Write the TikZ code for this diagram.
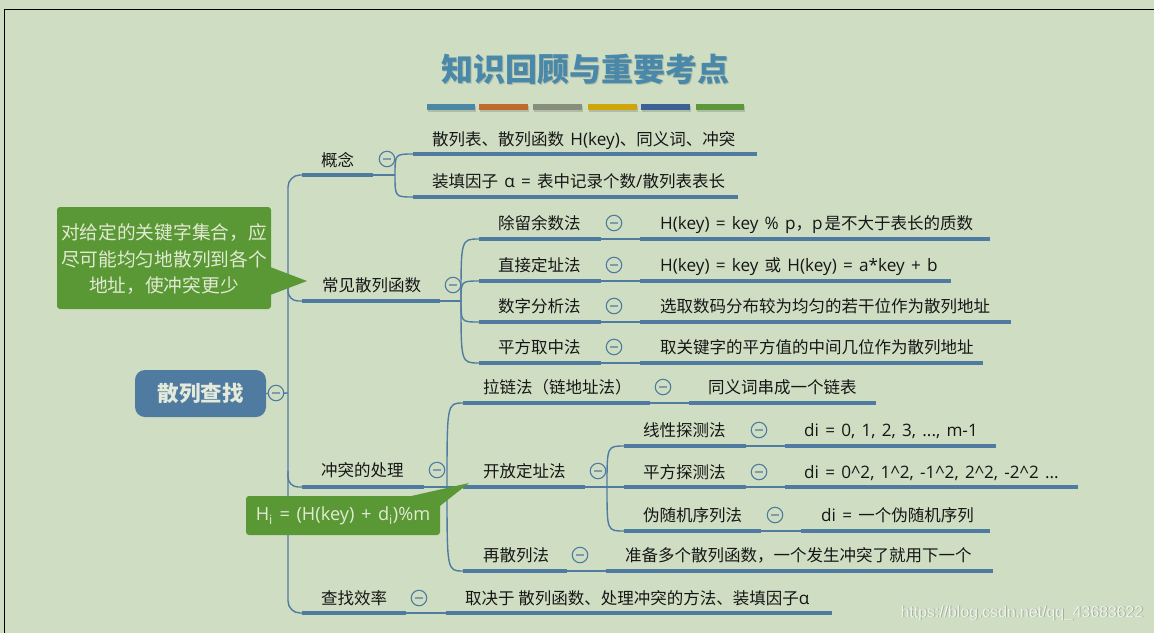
\documentclass[tikz,border=0pt]{standalone}
\usepackage{fontspec}
\setmainfont{Noto Sans CJK SC}
\newfontfamily\latfont[Scale=1.04,WordSpace=1.4]{Open Sans}
\newfontfamily\wmfont{Liberation Sans}
\newcommand\ltn[1]{{\latfont #1}}
\usetikzlibrary{calc}
\definecolor{bg}{RGB}{207,222,195}
\definecolor{lineblue}{RGB}{79,123,160}
\definecolor{titlecol}{RGB}{74,136,170}
\definecolor{notegreen}{RGB}{90,152,53}
\definecolor{notetext}{RGB}{226,234,212}
\definecolor{roottext}{RGB}{228,234,218}
\definecolor{ink}{RGB}{22,22,22}
\definecolor{cA}{RGB}{74,136,166}
\definecolor{cB}{RGB}{192,106,44}
\definecolor{cC}{RGB}{136,142,126}
\definecolor{cD}{RGB}{206,166,10}
\definecolor{cE}{RGB}{58,98,148}
\definecolor{cF}{RGB}{90,152,58}
\begin{document}
\begin{tikzpicture}[x=1pt,y=-1pt,
  bar/.style={draw=lineblue,line width=4.5pt},
  link/.style={draw=lineblue,line width=1.4pt},
  lbl/.style={anchor=base west,yshift=-6.3pt,inner sep=0pt,text=ink,font=\fontsize{16.5}{20}\selectfont},
  fold/.style={circle,draw=lineblue,line width=1.1pt,fill=bg,minimum size=15.5pt,inner sep=0pt,
     path picture={\draw[lineblue!65!bg,line width=1.3pt] ([xshift=-3.6pt]path picture bounding box.center) -- ([xshift=3.6pt]path picture bounding box.center);}},
  rootbox/.style={rounded corners=10pt,fill=lineblue,text=roottext,minimum width=131pt,minimum height=47pt,inner sep=0pt,font=\fontsize{21.5}{24}\selectfont\bfseries},
  note/.style={rounded corners=3pt,fill=notegreen,inner sep=0pt},
  notetxt/.style={text=notetext,inner sep=0pt,align=center,font=\fontsize{18.7}{26.5}\selectfont},
  titletxt/.style={inner sep=0pt,font=\fontsize{32}{36}\selectfont\bfseries},
]
\fill[bg] (0,0) rectangle (1154,633);
\useasboundingbox (0,0) rectangle (1154,633);
\draw[black,line width=1.3pt] (4.5,633) -- (4.5,9.5) -- (1154,9.5);

% title
\node[titletxt,text=black,opacity=.15] at (586.8,70.8) {知识回顾与重要考点};
\node[titletxt,text=titlecol] (title) at (585.5,69) {知识回顾与重要考点};
\foreach \xa/\xb/\c in {427/475/cA,479/528/cB,533/582/cC,588/637/cD,641/690/cE,696/744/cF}{
  \fill[black,opacity=.15] (\xa+1,105.5) rectangle (\xb+1,111.5);
  \fill[\c] (\xa,104) rectangle (\xb,110);
}

% coordinates
\coordinate (trunk) at (288,393);
\coordinate (aS) at (302,175); \coordinate (aE) at (373,175); \coordinate (ak) at (395,175);
\coordinate (a1S) at (413,154); \coordinate (a1E) at (757,154);
\coordinate (a2S) at (413,197); \coordinate (a2E) at (738,197);
\coordinate (bS) at (302,301); \coordinate (bE) at (440,301); \coordinate (bk) at (461,301);
\coordinate (b1S) at (479,239); \coordinate (b1E) at (601,239); \coordinate (b1vS) at (640,239); \coordinate (b1vE) at (990,239);
\coordinate (b2S) at (479,281); \coordinate (b2E) at (601,281); \coordinate (b2vS) at (640,281); \coordinate (b2vE) at (951,281);
\coordinate (b3S) at (479,322); \coordinate (b3E) at (601,322); \coordinate (b3vS) at (640,322); \coordinate (b3vE) at (1011,322);
\coordinate (b4S) at (479,363); \coordinate (b4E) at (601,363); \coordinate (b4vS) at (640,363); \coordinate (b4vE) at (983,363);
\coordinate (cS) at (302,487); \coordinate (cE) at (424,487); \coordinate (ck) at (447,487);
\coordinate (c1S) at (463,403); \coordinate (c1E) at (650,403); \coordinate (c1vS) at (689,403); \coordinate (c1vE) at (876,403);
\coordinate (c2S) at (463,487); \coordinate (c2E) at (585,487); \coordinate (c2k) at (607,487);
\coordinate (c21S) at (624,446); \coordinate (c21E) at (746,446); \coordinate (c21vS) at (785,446); \coordinate (c21vE) at (996,446);
\coordinate (c22S) at (624,487); \coordinate (c22E) at (746,487); \coordinate (c22vS) at (785,487); \coordinate (c22vE) at (1078,487);
\coordinate (c23S) at (624,531); \coordinate (c23E) at (761,531); \coordinate (c23vS) at (801,531); \coordinate (c23vE) at (990,531);
\coordinate (c3S) at (463,571); \coordinate (c3E) at (567,571); \coordinate (c3vS) at (606,571); \coordinate (c3vE) at (993,571);
\coordinate (dS) at (302,613); \coordinate (dE) at (406,613); \coordinate (dvS) at (446,613); \coordinate (dvE) at (832,613);

% root
\node[rootbox] (root) at (200.5,393.5) {散列查找};

% links
\draw[link] (root.east) -- (trunk);
\draw[link,rounded corners=12pt] (aS) -| (trunk) |- (dS);
\draw[link,rounded corners=10pt] ($(trunk|-bS)+(0,-16)$) |- (bS);
\draw[link,rounded corners=10pt] ($(trunk|-cS)+(0,-16)$) |- (cS);

\draw[link] (aE) -- (ak);
\draw[link] (ak) .. controls (ak|-a1S) .. (a1S);
\draw[link] (ak) .. controls (ak|-a2S) .. (a2S);

\draw[link] (bE) -- (bk);
\foreach \n in {b1,b2,b3,b4}{
  \draw[link] (bk) .. controls (bk|-\n S) .. (\n S);
  \draw[link] (\n E) -- (\n vS);
}

\draw[link] (cE) -- (c2S);
\draw[link] (ck) .. controls (ck|-c1S) .. (c1S);
\draw[link] (ck) .. controls (ck|-c3S) .. (c3S);
\draw[link] (c1E) -- (c1vS);
\draw[link] (c3E) -- (c3vS);
\draw[link] (c2E) -- (c22S);
\draw[link] (c2k) .. controls (c2k|-c21S) .. (c21S);
\draw[link] (c2k) .. controls (c2k|-c23S) .. (c23S);
\foreach \n in {c21,c22,c23}{ \draw[link] (\n E) -- (\n vS); }
\draw[link] (dE) -- (dvS);

% bars
\foreach \n in {a,a1,a2,b,b1,b2,b3,b4,c,c1,c2,c21,c22,c23,c3,d}{ \draw[bar] (\n S) -- (\n E); }
\foreach \n in {b1,b2,b3,b4,c1,c21,c22,c23,c3,d}{ \draw[bar] (\n vS) -- (\n vE); }

% folds
\node[fold] (rootf) at (276,393) {};
\node[fold] (af) at (387,159) {};
\node[fold] (bf) at (453,285) {};
\node[fold] (b1f) at (614,223) {};
\node[fold] (b2f) at (614,265) {};
\node[fold] (b3f) at (614,306) {};
\node[fold] (b4f) at (614,347) {};
\node[fold] (cf) at (437,470) {};
\node[fold] (c1f) at (663,387) {};
\node[fold] (c2f) at (598,471) {};
\node[fold] (c21f) at (759,430) {};
\node[fold] (c22f) at (759,472) {};
\node[fold] (c23f) at (775,515) {};
\node[fold] (c3f) at (580,555) {};
\node[fold] (df) at (419,598) {};

% labels
\node[lbl] (a) at (321,160) {概念};
\node[lbl] (a1) at (432,139) {散列表、散列函数\ltn{ H(key)}、同义词、冲突};
\node[lbl] (a2) at (432,181) {装填因子\ltn{ α = }表中记录个数\ltn{/}散列表表长};
\node[lbl] (b) at (322,285) {常见散列函数};
\node[lbl] (b1) at (498,223) {除留余数法};
\node[lbl] (b1v) at (660,223) {\ltn{H(key) = key \% p}，\ltn{p}\hspace{2pt}是不大于表长的质数};
\node[lbl] (b2) at (498,265) {直接定址法};
\node[lbl] (b2v) at (660,265) {\ltn{H(key) = key }或\ltn{ H(key) = a*key + b}};
\node[lbl] (b3) at (498,306) {数字分析法};
\node[lbl] (b3v) at (660,306) {选取数码分布较为均匀的若干位作为散列地址};
\node[lbl] (b4) at (498,347) {平方取中法};
\node[lbl] (b4v) at (660,347) {取关键字的平方值的中间几位作为散列地址};
\node[lbl] (c) at (321,470) {冲突的处理};
\node[lbl] (c1) at (483,387) {拉链法（链地址法）};
\node[lbl] (c1v) at (708,387) {同义词串成一个链表};
\node[lbl] (c2) at (483,471) {开放定址法};
\node[lbl] (c21) at (643,430) {线性探测法};
\node[lbl] (c21v) at (804,430) {\ltn{di = 0, 1, 2, 3, ..., m-1}};
\node[lbl] (c22) at (643,472) {平方探测法};
\node[lbl] (c22v) at (804,472) {\ltn{di = 0\textasciicircum2, 1\textasciicircum2, -1\textasciicircum2, 2\textasciicircum2, -2\textasciicircum2 ...}};
\node[lbl] (c23) at (643,515) {伪随机序列法};
\node[lbl] (c23v) at (821,515) {\ltn{di = }一个伪随机序列};
\node[lbl] (c3) at (483,555) {再散列法};
\node[lbl] (c3v) at (625,555) {准备多个散列函数，一个发生冲突了就用下一个};
\node[lbl] (d) at (321,598) {查找效率};
\node[lbl] (dv) at (465,598) {取决于 散列函数、处理冲突的方法、装填因子\ltn{α}};

% callout 1
\node[note,minimum width=214pt,minimum height=102pt] (n1) at (164,258) {};
\coordinate (n1tip) at (307,281);
\fill[notegreen] ($(n1.east)+(-1,9)$) -- (n1tip) -- ($(n1.east)+(-1,37)$) -- cycle;
\node[notetxt] (n1t) at (164,259.5) {对给定的关键字集合，应\\尽可能均匀地散列到各个\\地址，使冲突更少};

% callout 2
\node[note,minimum width=194pt,minimum height=39pt] (n2) at (343,515.5) {};
\coordinate (n2tip) at (469,483);
\fill[notegreen] ($(n2.north east)+(-28,0)$) -- (n2tip) -- ($(n2.north east)+(0,10)$) -- cycle;
\node[notetxt,font=\latfont\fontsize{17.5}{20}\selectfont] (n2t) at (343,516) {H\textsubscript{i} = (H(key) + d\textsubscript{i})\%m};

% watermark
\node[inner sep=0pt,text=black,opacity=.22,font=\wmfont\fontsize{15.8}{18}\selectfont] at (1023,613.8) {https://blog.csdn.net/qq\_43683622};
\node[inner sep=0pt,text=white,opacity=.75,font=\wmfont\fontsize{15.8}{18}\selectfont] (wm) at (1022,613) {https://blog.csdn.net/qq\_43683622};
\end{tikzpicture}
\end{document}
